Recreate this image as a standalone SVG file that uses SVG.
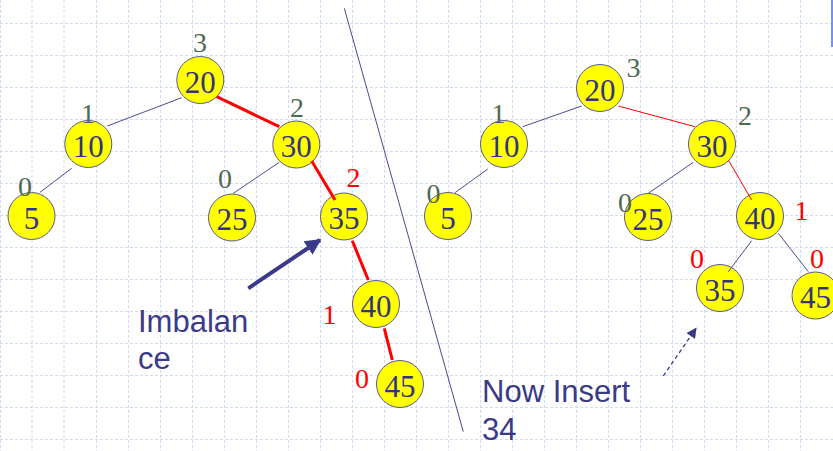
<svg xmlns="http://www.w3.org/2000/svg" width="833" height="451" viewBox="0 0 833 451">
<style>
.grid line{stroke:#d0dafa;stroke-width:1;stroke-dasharray:3 2}
.node circle{fill:#ffff00;stroke:#5a5a8a;stroke-width:1}
.node text{font-size:31px;fill:#33337f;text-anchor:middle}
.h{font-size:28px;text-anchor:middle}
.hg{fill:#4e6b50}
.hr{fill:#ff0000}
.e{stroke:#4a4a90;stroke-width:1;fill:none}
.er{stroke:#ff0000;stroke-width:3;fill:none}
.ert{stroke:#ff0000;stroke-width:1;fill:none}
.lbl{font-family:"Liberation Sans",Arial,sans-serif;font-size:31px;fill:#3a3a88}
</style>
<defs>
<marker id="ah" viewBox="0 0 10 10" refX="9" refY="5" markerWidth="4" markerHeight="4" orient="auto" markerUnits="strokeWidth">
<path d="M0,0 L10,5 L0,10 z" fill="#3a3a88"/>
</marker>
<marker id="ah2" viewBox="0 0 10 10" refX="9" refY="5" markerWidth="8" markerHeight="8" orient="auto" markerUnits="strokeWidth">
<path d="M0,0 L10,5 L0,10 z" fill="#3a3a88"/>
</marker>
</defs>
<rect width="833" height="451" fill="#ffffff"/>
<g class="grid">
<line x1="0.5" y1="0" x2="0.5" y2="451"/>
<line x1="32" y1="0" x2="32" y2="451"/>
<line x1="64" y1="0" x2="64" y2="451"/>
<line x1="96.5" y1="0" x2="96.5" y2="451"/>
<line x1="128.5" y1="0" x2="128.5" y2="451"/>
<line x1="160.5" y1="0" x2="160.5" y2="451"/>
<line x1="192.5" y1="0" x2="192.5" y2="451"/>
<line x1="224.5" y1="0" x2="224.5" y2="451"/>
<line x1="256.5" y1="0" x2="256.5" y2="451"/>
<line x1="288.5" y1="0" x2="288.5" y2="451"/>
<line x1="320.5" y1="0" x2="320.5" y2="451"/>
<line x1="352.5" y1="0" x2="352.5" y2="451"/>
<line x1="384.5" y1="0" x2="384.5" y2="451"/>
<line x1="416.5" y1="0" x2="416.5" y2="451"/>
<line x1="448.5" y1="0" x2="448.5" y2="451"/>
<line x1="480.5" y1="0" x2="480.5" y2="451"/>
<line x1="512.5" y1="0" x2="512.5" y2="451"/>
<line x1="544.5" y1="0" x2="544.5" y2="451"/>
<line x1="576.5" y1="0" x2="576.5" y2="451"/>
<line x1="608.5" y1="0" x2="608.5" y2="451"/>
<line x1="640.5" y1="0" x2="640.5" y2="451"/>
<line x1="672.5" y1="0" x2="672.5" y2="451"/>
<line x1="704.5" y1="0" x2="704.5" y2="451"/>
<line x1="736.5" y1="0" x2="736.5" y2="451"/>
<line x1="768.5" y1="0" x2="768.5" y2="451"/>
<line x1="800.5" y1="0" x2="800.5" y2="451"/>
<line x1="0" y1="23.5" x2="833" y2="23.5"/>
<line x1="0" y1="55.5" x2="833" y2="55.5"/>
<line x1="0" y1="87.5" x2="833" y2="87.5"/>
<line x1="0" y1="119.5" x2="833" y2="119.5"/>
<line x1="0" y1="151.5" x2="833" y2="151.5"/>
<line x1="0" y1="183.5" x2="833" y2="183.5"/>
<line x1="0" y1="215.5" x2="833" y2="215.5"/>
<line x1="0" y1="247.5" x2="833" y2="247.5"/>
<line x1="0" y1="279.5" x2="833" y2="279.5"/>
<line x1="0" y1="311.5" x2="833" y2="311.5"/>
<line x1="0" y1="343.5" x2="833" y2="343.5"/>
<line x1="0" y1="375.5" x2="833" y2="375.5"/>
<line x1="0" y1="407.5" x2="833" y2="407.5"/>
<line x1="0" y1="439.5" x2="833" y2="439.5"/>
</g>
<rect x="831" y="0" width="2" height="47" fill="#7b8ff0"/>
<line x1="344.3" y1="8.3" x2="463.3" y2="431.7" stroke="#4a4a90" stroke-width="1"/>

<g font-family="Liberation Serif, Times New Roman, DejaVu Serif, serif">
<g id="L20" class="node"><circle cx="200.3" cy="80" r="23.5"/><text x="200.3" y="92.5">20</text></g>
<g id="L10" class="node"><circle cx="88.3" cy="144" r="23.5"/><text x="88.3" y="156.5">10</text></g>
<g id="L5" class="node"><circle cx="31.5" cy="216" r="23.5"/><text x="31.5" y="228.5">5</text></g>
<g id="L30" class="node"><circle cx="296.3" cy="144.5" r="23.5"/><text x="296.3" y="157">30</text></g>
<g id="L25" class="node"><circle cx="232" cy="217.5" r="23.5"/><text x="232" y="230">25</text></g>
<g id="L35" class="node"><circle cx="344" cy="216.5" r="23.5"/><text x="344" y="229">35</text></g>
<g id="L40" class="node"><circle cx="376" cy="304" r="23.5"/><text x="376" y="316.5">40</text></g>
<g id="L45" class="node"><circle cx="400" cy="384" r="23.5"/><text x="400" y="396.5">45</text></g>

<g id="R20" class="node"><circle cx="600" cy="88" r="23.5"/><text x="600" y="100.5">20</text></g>
<g id="R10" class="node"><circle cx="504" cy="144" r="23.5"/><text x="504" y="156.5">10</text></g>
<g id="R5" class="node"><circle cx="448" cy="216" r="23.5"/><text x="448" y="228.5">5</text></g>
<g id="R30" class="node"><circle cx="712" cy="144" r="23.5"/><text x="712" y="156.5">30</text></g>
<g id="R25" class="node"><circle cx="648" cy="217" r="23.5"/><text x="648" y="229.5">25</text></g>
<g id="R40" class="node"><circle cx="760" cy="216" r="23.5"/><text x="760" y="228.5">40</text></g>
<g id="R35" class="node"><circle cx="720" cy="288" r="23.5"/><text x="720" y="300.5">35</text></g>
<g id="R45" class="node"><circle cx="815.5" cy="295.5" r="23.5"/><text x="815.5" y="308">45</text></g>
</g>

<g id="connectors">
<line class="e" x1="181.7" y1="97.7" x2="107.3" y2="126"/>
<line class="er" x1="216.7" y1="96.7" x2="279.3" y2="126.7"/>
<line class="e" x1="71.7" y1="168.3" x2="40" y2="192.3"/>
<line class="e" x1="279.3" y1="162.3" x2="233.3" y2="193.3"/>
<line class="er" x1="311.7" y1="161" x2="335" y2="200"/>
<line class="er" x1="352.3" y1="240.7" x2="368.3" y2="280"/>
<line class="er" x1="384.3" y1="328.3" x2="392.3" y2="360"/>
<line class="e" x1="581.7" y1="106" x2="522.7" y2="126.7"/>
<line class="ert" x1="618.3" y1="106" x2="695" y2="126.7"/>
<line class="e" x1="487.7" y1="169" x2="455" y2="192.7"/>
<line class="e" x1="693.3" y1="162.3" x2="648.3" y2="193.3"/>
<line class="ert" x1="728.3" y1="160" x2="751.7" y2="200"/>
<line class="e" x1="751.7" y1="240.7" x2="728.3" y2="271.7"/>
<line class="e" x1="778.3" y1="233.3" x2="808.3" y2="271.7"/>
<line x1="248.3" y1="288.3" x2="320" y2="240" stroke="#3a3a88" stroke-width="4" marker-end="url(#ah)"/>
<line x1="663.3" y1="376" x2="696" y2="328.3" stroke="#3a3a88" stroke-width="1.3" stroke-dasharray="4 3" marker-end="url(#ah2)"/>
</g>

<g id="heights" font-family="Liberation Serif, Times New Roman, DejaVu Serif, serif">
<text class="h hg" x="200" y="52">3</text>
<text class="h hg" x="88" y="123">1</text>
<text class="h hg" x="297" y="116.5">2</text>
<text class="h hg" x="25" y="196">0</text>
<text class="h hg" x="225" y="188">0</text>
<text class="h hr" x="353.5" y="186.5">2</text>
<text class="h hr" x="329.5" y="324">1</text>
<text class="h hr" x="362" y="388">0</text>
<text class="h hg" x="633.5" y="76.5">3</text>
<text class="h hg" x="498.5" y="123">1</text>
<text class="h hg" x="745" y="125">2</text>
<text class="h hg" x="433.5" y="203">0</text>
<text class="h hg" x="625" y="211.5">0</text>
<text class="h hr" x="801.5" y="220">1</text>
<text class="h hr" x="697" y="268">0</text>
<text class="h hr" x="817" y="268">0</text>
</g>

<text class="lbl" x="138" y="331.5">Imbalan</text>
<text class="lbl" x="138" y="368.5">ce</text>
<text class="lbl" x="482" y="401.5">Now Insert</text>
<text class="lbl" x="482" y="440">34</text>
</svg>
